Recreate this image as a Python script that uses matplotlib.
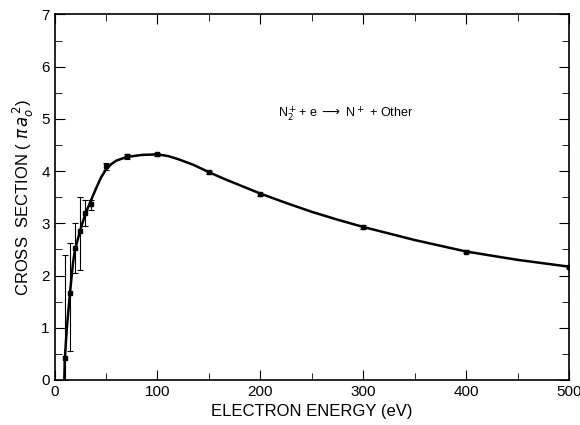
import matplotlib.pyplot as plt
from matplotlib.ticker import MultipleLocator

# measured points (eV, cross section in pi a0^2)
energy = [10, 15, 20, 25, 30, 35, 50, 70, 100, 150, 200, 300, 400, 500]
sigma = [0.42, 1.66, 2.52, 2.85, 3.2, 3.37, 4.09, 4.28, 4.32, 3.98, 3.56, 2.93, 2.46, 2.17]
err_lo = [0.42, 1.1, 0.47, 0.75, 0.25, 0.12, 0.06, 0.05, 0.03, 0.03, 0.03, 0.03, 0.03, 0.03]
err_hi = [1.98, 0.96, 0.48, 0.65, 0.25, 0.08, 0.06, 0.05, 0.03, 0.03, 0.03, 0.03, 0.03, 0.03]

# hand-drawn curve through the points
curve_e = [9.5, 10, 12, 15, 18, 20, 25, 30, 35, 40, 45, 50, 55, 60, 70, 85, 100,
           110, 120, 135, 150, 165, 180, 200, 225, 250, 275, 300, 350, 400, 450, 500]
curve_s = [0.0, 0.4, 1.0, 1.66, 2.25, 2.5, 2.87, 3.18, 3.42, 3.65, 3.87, 4.03, 4.13,
           4.2, 4.27, 4.31, 4.32, 4.29, 4.23, 4.12, 3.98, 3.85, 3.73, 3.57, 3.39,
           3.22, 3.07, 2.93, 2.68, 2.46, 2.3, 2.17]

plt.rcParams['font.family'] = ['Liberation Sans', 'DejaVu Sans']

fig = plt.figure(figsize=(5.8, 4.25), dpi=100)
ax = fig.add_axes([0.094, 0.106, 0.887, 0.86])

ax.plot(curve_e, curve_s, color='black', lw=1.8)
ax.errorbar(energy, sigma, yerr=[err_lo, err_hi], fmt='s', ms=2.5, color='black',
            ecolor='black', elinewidth=0.8, capsize=2.5, capthick=0.8)

ax.text(283, 5.1, r'N$_2^+$+ e $\longrightarrow$ N$^+$ + Other', fontsize=9,
        ha='center', va='center')

ax.set_xlim(0, 500)
ax.set_ylim(0, 7)
ax.xaxis.set_major_locator(MultipleLocator(100))
ax.xaxis.set_minor_locator(MultipleLocator(50))
ax.yaxis.set_major_locator(MultipleLocator(1))
ax.yaxis.set_minor_locator(MultipleLocator(0.5))
ax.tick_params(which='both', direction='in', top=True, right=True, labelsize=11)
ax.tick_params(which='major', length=7)
ax.tick_params(which='minor', length=5)
for s in ax.spines.values():
    s.set_linewidth(1.2)

ax.set_xlabel('ELECTRON ENERGY (eV)', fontsize=12)
ax.set_ylabel(r'CROSS  SECTION ( $\pi\,a_o^{\,2}$)', fontsize=12)

fig.savefig('out.png', dpi=100)
